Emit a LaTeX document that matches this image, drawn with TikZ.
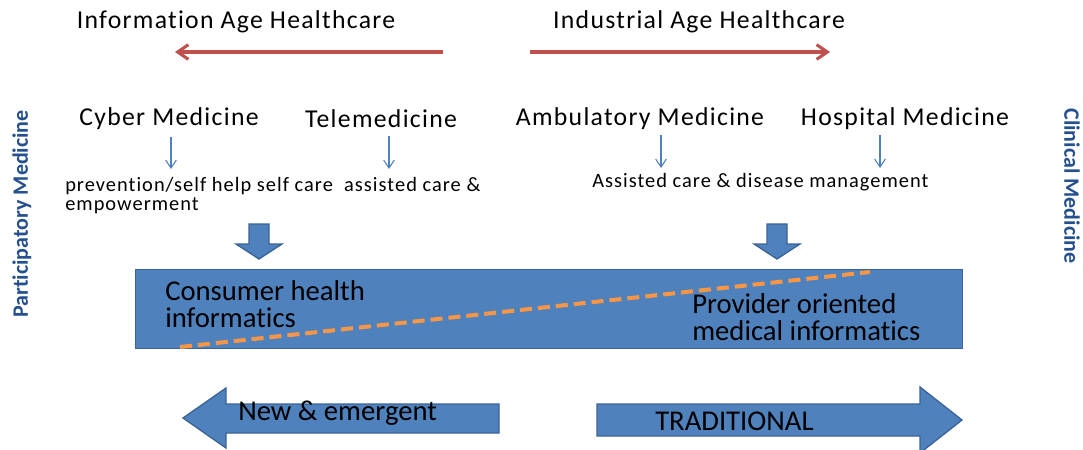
\documentclass[tikz,border=0pt]{standalone}
\usepackage{fontspec}
\setmainfont{Carlito}[Ligatures={NoCommon,NoContextual}]
\newfontfamily\spaced[LetterSpace=5,Ligatures={NoCommon,NoContextual}]{Carlito}
\newfontfamily\spacedsmall[LetterSpace=5,Ligatures={NoCommon,NoContextual}]{Carlito}
\usetikzlibrary{arrows.meta}
\definecolor{offblue}{HTML}{4F81BD}
\definecolor{offblueedge}{HTML}{3A6396}
\definecolor{offred}{HTML}{C0504D}
\definecolor{offorange}{HTML}{F79646}
\definecolor{sidetext}{HTML}{24508F}
\tikzset{
  title/.style={font=\spaced\fontsize{19.3}{23}\selectfont, inner sep=0pt},
  desc/.style={font=\spacedsmall\fontsize{15.3}{14.5}\selectfont, inner sep=0pt, align=left},
  boxtext/.style={font=\fontsize{21.5}{19.8}\selectfont, inner sep=0pt, align=left},
  side/.style={font=\bfseries\fontsize{16.5}{20}\selectfont, text=sidetext, inner sep=0pt},
  agearrow/.style={draw=offred, line width=2.3pt, -{Straight Barb[length=8pt,width=11pt,line width=2.3pt]}},
  thinarrow/.style={draw=offblue, line width=0.8pt, -{Straight Barb[length=6pt,width=8pt]}},
  blockarrow/.style={fill=offblue, draw=offblueedge, line width=1pt, line join=miter},
}
\begin{document}
\begin{tikzpicture}[x=0.75pt, y=-0.75pt]
\useasboundingbox (0,0) rectangle (1083,450);

% era headings and their direction arrows
\node[title] (info) at (236,22) {Information Age Healthcare};
\node[title] (indus) at (699,22) {Industrial Age Healthcare};
\coordinate (infoS) at (443,52);
\coordinate (infoE) at (175,52);
\coordinate (indS) at (530,52);
\coordinate (indE) at (830,52);
\draw[agearrow] (infoS) -- (infoE);
\draw[agearrow] (indS) -- (indE);

% kinds of medicine
\node[title] (cyber) at (169,119) {Cyber Medicine};
\node[title] (tele) at (381,119) {Telemedicine};
\node[title] (ambu) at (640,119) {Ambulatory Medicine};
\node[title] (hosp) at (905,119) {Hospital Medicine};

% care descriptions
\node[desc, anchor=north west] (selfcare) at (65,177) {prevention/self help self care\ \ assisted care \&\\empowerment};
\node[desc, anchor=north west] (disease) at (592,173) {Assisted care \& disease management};

% thin arrows from each kind of medicine
\coordinate (c1a) at (171,137); \coordinate (c1b) at (171,169);
\coordinate (c2a) at (389,136); \coordinate (c2b) at (389,169);
\coordinate (c3a) at (661,135); \coordinate (c3b) at (661,168);
\coordinate (c4a) at (880,135); \coordinate (c4b) at (880,168);
\draw[thinarrow] (c1a) -- (c1b);
\draw[thinarrow] (c2a) -- (c2b);
\draw[thinarrow] (c3a) -- (c3b);
\draw[thinarrow] (c4a) -- (c4b);

% block arrows down into the informatics band
\draw[blockarrow] (249,224) -- (269,224) -- (269,244) -- (282,244) -- (259,259) -- (236,244) -- (249,244) -- cycle;
\draw[blockarrow] (767,224) -- (787,224) -- (787,244) -- (800,244) -- (777,259) -- (754,244) -- (767,244) -- cycle;

% informatics band
\node[blockarrow, minimum width=827*0.75pt, minimum height=79*0.75pt, inner sep=0pt, anchor=north west] (band) at (135,269) {};
\coordinate (splitA) at (180,347);
\coordinate (splitB) at (870,272);
\draw[draw=offorange, line width=3pt, dash pattern=on 9pt off 4.5pt] (splitA) -- (splitB);
\node[boxtext, anchor=west] (consumer) at (165,304) {Consumer health\\informatics};
\node[boxtext, anchor=west] (provider) at (692,317) {Provider oriented\\medical informatics};

% bottom direction block arrows
\draw[blockarrow] (183,418) -- (226,388) -- (226,404) -- (499,404) -- (499,433) -- (226,433) -- (226,448) -- cycle;
\draw[blockarrow] (962,420) -- (920,387) -- (920,404) -- (597,404) -- (597,436) -- (920,436) -- (920,453) -- cycle;
\node[boxtext, anchor=west] (newem) at (238,413) {New \& emergent};
\node[boxtext, anchor=west] (trad) at (655,421) {TRADITIONAL};

% side labels
\node[side, rotate=90] (partic) at (22,214) {Participatory Medicine};
\node[side, rotate=-90] (clinic) at (1072,186) {Clinical Medicine};
\end{tikzpicture}
\end{document}
